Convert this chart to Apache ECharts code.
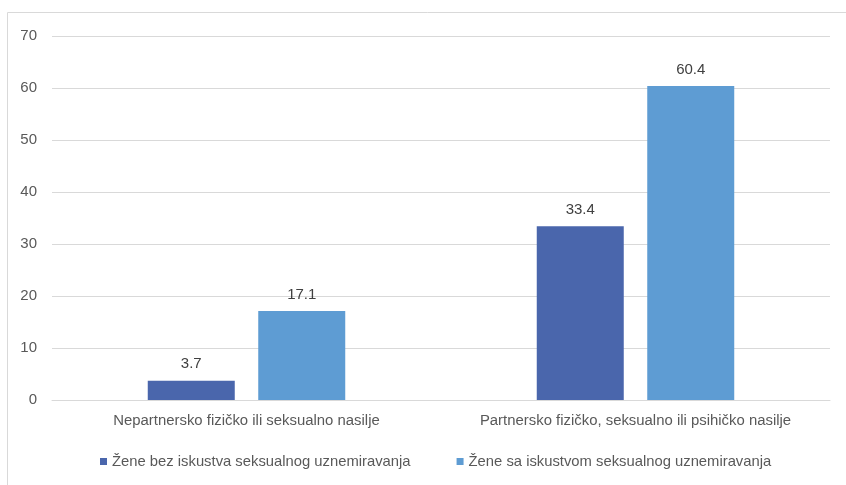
<!DOCTYPE html>
<html><head><meta charset="utf-8">
<script src="https://cdn.jsdelivr.net/npm/echarts@6/dist/echarts.min.js"></script>
<style>html,body{margin:0;padding:0;background:#fff}#c{width:846px;height:485px}</style>
</head><body><div id="c"></div>
<script>
const categories = ["Nepartnersko fizičko ili seksualno nasilje", "Partnersko fizičko, seksualno ili psihičko nasilje"];
const seriesNames = ["Žene bez iskustva seksualnog uznemiravanja", "Žene sa iskustvom seksualnog uznemiravanja"];
const withoutHarassment = [3.7, 33.4];
const withHarassment = [17.1, 60.4];
const yTicks = { min: 0, max: 70, interval: 10 };

const FONT = "Liberation Sans";
const chart = echarts.init(document.getElementById('c'), null, { renderer: 'canvas' });
chart.setOption({
  animation: false,
  textStyle: { fontFamily: FONT },
  graphic: [{
    type: 'rect', silent: true,
    shape: { x: 7.5, y: 12.5, width: 900, height: 500 },
    style: { fill: 'none', stroke: '#d9d9d9', lineWidth: 1 }
  }],
  grid: { left: 52, right: 16, top: 36, bottom: 85, containLabel: false },
  legend: {
    bottom: 11, left: 95, itemWidth: 7, itemHeight: 7, itemGap: 46,
    icon: 'rect',
    textStyle: { fontFamily: FONT, fontSize: 14.8, color: '#595959' },
    data: seriesNames
  },
  xAxis: {
    type: 'category', data: categories,
    axisLine: { show: true, lineStyle: { color: '#d9d9d9' } },
    axisTick: { show: false },
    axisLabel: { interval: 0, hideOverlap: false, fontFamily: FONT, fontSize: 14.9, color: '#595959', margin: 13 }
  },
  yAxis: {
    type: 'value', min: yTicks.min, max: yTicks.max, interval: yTicks.interval,
    axisLine: { show: false }, axisTick: { show: false },
    splitLine: { lineStyle: { color: '#d9d9d9' } },
    axisLabel: { fontFamily: FONT, fontSize: 15, color: '#595959', margin: 15 }
  },
  series: [
    {
      name: seriesNames[0], type: 'bar', data: withoutHarassment,
      barWidth: 87, barGap: '27%',
      itemStyle: { color: '#4a66ac' },
      label: { show: true, position: 'top', distance: 9, fontFamily: FONT, fontSize: 15, color: '#404040' }
    },
    {
      name: seriesNames[1], type: 'bar', data: withHarassment,
      barWidth: 87, barGap: '27%',
      itemStyle: { color: '#5e9cd3' },
      label: { show: true, position: 'top', distance: 9, fontFamily: FONT, fontSize: 15, color: '#404040' }
    }
  ]
});
</script></body></html>
